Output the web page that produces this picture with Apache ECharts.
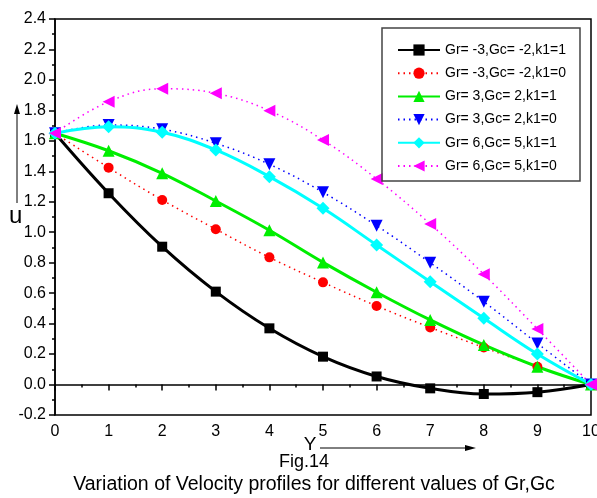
<!DOCTYPE html>
<html>
<head>
<meta charset="utf-8">
<script src="https://cdn.jsdelivr.net/npm/echarts@6/dist/echarts.min.js"></script>
<style>
  html, body { margin: 0; padding: 0; background: #fff; }
  #main { width: 597px; height: 498px; }
</style>
</head>
<body>
<div id="main"></div>
<script>
// Y positions 0..10
const yPos = [0, 1, 2, 3, 4, 5, 6, 7, 8, 9, 10]
const xTicks = ['0', '1', '2', '3', '4', '5', '6', '7', '8', '9', '10']

const names = [
  'Gr= -3,Gc= -2,k1=1',
  'Gr= -3,Gc= -2,k1=0',
  'Gr= 3,Gc= 2,k1=1',
  'Gr= 3,Gc= 2,k1=0',
  'Gr= 6,Gc= 5,k1=1',
  'Gr= 6,Gc= 5,k1=0'
]

const uNeg1 = [1.65, 1.256, 0.905, 0.61, 0.369, 0.183, 0.053, -0.025, -0.062, -0.05, 0]
const uNeg0 = [1.65, 1.424, 1.212, 1.02, 0.835, 0.671, 0.516, 0.375, 0.243, 0.117, 0]
const uMid1 = [1.65, 1.535, 1.387, 1.205, 1.013, 0.802, 0.606, 0.424, 0.26, 0.117, 0]
const uMid0 = [1.65, 1.704, 1.676, 1.584, 1.446, 1.262, 1.043, 0.80, 0.544, 0.27, 0]
const uHi1 = [1.65, 1.693, 1.656, 1.54, 1.365, 1.157, 0.916, 0.675, 0.435, 0.2, 0]
const uHi0 = [1.65, 1.857, 1.942, 1.912, 1.798, 1.605, 1.35, 1.054, 0.724, 0.365, 0]

const chart = echarts.init(document.getElementById('main'))

function pairs(vals) {
  return yPos.map((x, i) => [x, vals[i]])
}

function solid(name, vals, color, symbol, size, rot) {
  return {
    name: name, type: 'line', data: pairs(vals), smooth: 0.4,
    symbol: symbol, symbolSize: size, symbolRotate: rot || 0,
    lineStyle: { color: color, width: 3 },
    itemStyle: { color: color }
  }
}

function dotted(name, vals, color, symbol, size, rot) {
  return {
    name: name, type: 'line', data: pairs(vals), smooth: 0.4,
    symbol: symbol, symbolSize: size, symbolRotate: rot || 0,
    lineStyle: { color: color, width: 1.5, type: [1.5, 4] },
    itemStyle: { color: color }
  }
}

const font = 'Liberation Sans, Arial, sans-serif'
const tick = { show: true, inside: false, length: 6, lineStyle: { color: '#000', width: 1.5 } }
const minor = { show: true, splitNumber: 2, length: 3, lineStyle: { color: '#000', width: 1.5 } }

const option = {
  backgroundColor: '#fff',
  animation: false,
  grid: {
    left: 55, top: 19, right: 6, bottom: 83,
    outerBoundsMode: 'none', containLabel: false,
    show: true, borderColor: '#000', borderWidth: 1.5
  },
  legend: {
    left: 382, top: 28, orient: 'vertical',
    padding: [15, 14, 8, 15],
    itemWidth: 42, itemHeight: 14, itemGap: 9.2,
    borderColor: '#444', borderWidth: 1.5,
    textStyle: { fontFamily: font, fontSize: 14, color: '#000' },
    data: names
  },
  xAxis: {
    type: 'value', min: 0, max: 10, interval: 1,
    axisLine: { lineStyle: { color: '#000', width: 1.5 } },
    axisTick: tick,
    minorTick: minor,
    splitLine: { show: false },
    axisLabel: {
      fontFamily: font, fontSize: 16, color: '#000', margin: 9,
      formatter: v => xTicks[v]
    }
  },
  yAxis: {
    type: 'value', min: -0.2, max: 2.4, interval: 0.2,
    axisLine: { show: true, lineStyle: { color: '#000', width: 1.5 } },
    axisTick: tick,
    minorTick: minor,
    splitLine: { show: false },
    axisLabel: {
      fontFamily: font, fontSize: 16, color: '#000', margin: 9,
      formatter: v => v.toFixed(1)
    }
  },
  graphic: [
    { type: 'line', shape: { x1: 17, y1: 203, x2: 17, y2: 112 }, style: { stroke: '#000', lineWidth: 1 } },
    { type: 'polygon', shape: { points: [[17, 104], [14, 114], [20, 114]] }, style: { fill: '#000' } },
    { type: 'text', left: 9, top: 204, style: { text: 'u', font: '24px ' + font, fill: '#000' } },
    { type: 'text', x: 310, y: 445, style: { text: 'Y', font: '19px ' + font, fill: '#000', align: 'center', verticalAlign: 'middle' } },
    { type: 'line', shape: { x1: 320, y1: 448, x2: 468, y2: 448 }, style: { stroke: '#000', lineWidth: 1 } },
    { type: 'polygon', shape: { points: [[476, 448], [465, 445], [465, 451]] }, style: { fill: '#000' } },
    { type: 'text', x: 304, y: 462, style: { text: 'Fig.14', font: '18px ' + font, fill: '#000', align: 'center', verticalAlign: 'middle' } },
    { type: 'text', x: 314, y: 485, style: { text: 'Variation of Velocity profiles for different values of Gr,Gc', font: '19.5px ' + font, fill: '#000', align: 'center', verticalAlign: 'middle' } }
  ],
  series: [
    solid(names[0], uNeg1, '#000000', 'rect', 10),
    dotted(names[1], uNeg0, '#ff0000', 'circle', 10),
    solid(names[2], uMid1, '#00ee00', 'triangle', 12),
    dotted(names[3], uMid0, '#0000ff', 'triangle', 12, 180),
    solid(names[4], uHi1, '#00ffff', 'diamond', 13),
    dotted(names[5], uHi0, '#ff00ff', 'triangle', 12, 90)
  ]
}

chart.setOption(option)
</script>
</body>
</html>
